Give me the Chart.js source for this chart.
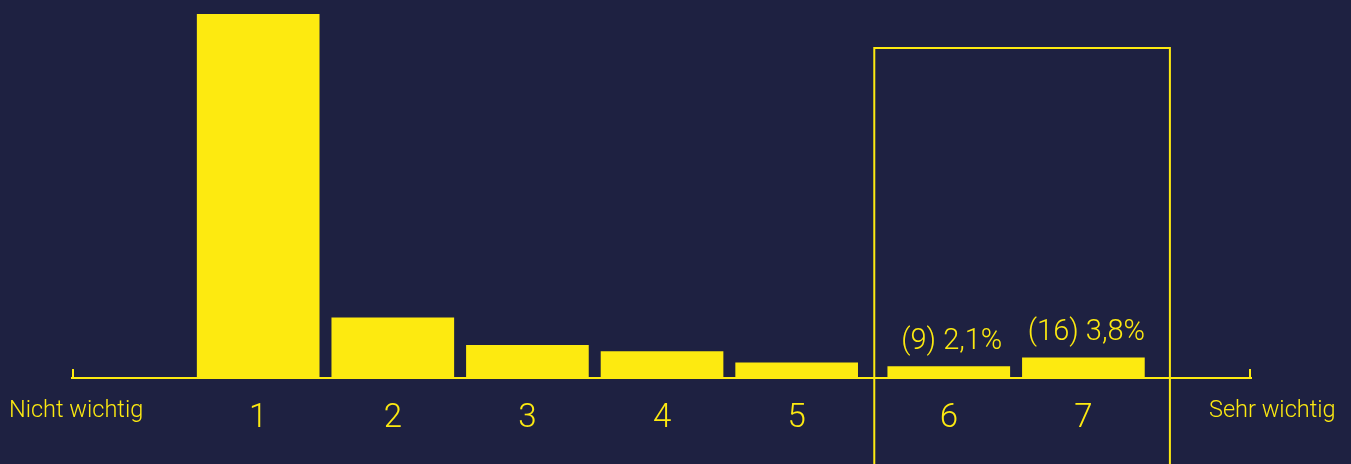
<!DOCTYPE html>
<html>
<head>
<meta charset="utf-8">
<script src="https://cdn.jsdelivr.net/npm/chart.js@4/dist/chart.umd.min.js"></script>
<style>
  html, body { margin: 0; padding: 0; background: #1e2141; }
  #wrap { width: 1351px; height: 464px; position: relative; }
</style>
</head>
<body>
<div id="wrap"><canvas id="chart"></canvas></div>
<script>
// Data
const CATEGORIES = ['1', '2', '3', '4', '5', '6', '7'];
const COUNTS = [290, 48, 26, 21, 12, 9, 16];
const HIGHLIGHTED = [5, 6]; // boxed + labelled categories (6 and 7)
const SCALE_ENDS = ['Nicht wichtig', 'Sehr wichtig'];

const YELLOW = '#fdea10';
const FONT = 'Roboto';
const GROUP_GAP = 0.13; // extra space before the boxed group

const total = COUNTS.reduce((a, b) => a + b, 0);
const xPos = i => i + 1 + (i >= HIGHLIGHTED[0] ? GROUP_GAP : 0);
const tickValues = CATEGORIES.map((_, i) => xPos(i));
const pctLabel = i => `(${COUNTS[i]}) ${(COUNTS[i] / total * 100).toFixed(1).replace('.', ',')}%`;

const extras = {
  id: 'extras',
  afterDraw(chart) {
    const { ctx, chartArea, scales: { x } } = chart;
    const meta = chart.getDatasetMeta(0);
    ctx.save();
    ctx.fillStyle = YELLOW;
    ctx.strokeStyle = YELLOW;

    // value labels above highlighted bars
    ctx.font = `300 29px ${FONT}`;
    ctx.textAlign = 'center';
    ctx.textBaseline = 'alphabetic';
    HIGHLIGHTED.forEach(i => {
      const bar = meta.data[i];
      ctx.fillText(pctLabel(i), bar.x + 3, bar.y - 18);
    });

    // box around the group
    const left = x.getPixelForValue(xPos(HIGHLIGHTED[0])) - 74.5;
    const right = x.getPixelForValue(xPos(HIGHLIGHTED[HIGHLIGHTED.length - 1])) + 86.5;
    const top = chartArea.top + 34;
    ctx.lineWidth = 2;
    ctx.beginPath();
    ctx.moveTo(left, chart.height + 5);
    ctx.lineTo(left, top);
    ctx.lineTo(right, top);
    ctx.lineTo(right, chart.height + 5);
    ctx.stroke();

    // small end ticks on the axis
    [chartArea.left + 1, chartArea.right - 1].forEach(px => {
      ctx.beginPath();
      ctx.moveTo(px, chartArea.bottom - 9);
      ctx.lineTo(px, chartArea.bottom + 1);
      ctx.stroke();
    });

    // scale end labels
    ctx.font = `300 23.5px ${FONT}`;
    ctx.textAlign = 'left';
    ctx.fillText(SCALE_ENDS[0], chartArea.left - 63, chartArea.bottom + 39);
    ctx.fillText(SCALE_ENDS[1], chartArea.right - 42, chartArea.bottom + 39);
    ctx.restore();
  }
};

new Chart(document.getElementById('chart'), {
  type: 'bar',
  data: {
    datasets: [{
      data: COUNTS.map((c, i) => ({ x: xPos(i), y: c })),
      backgroundColor: YELLOW,
      borderWidth: 0,
      barThickness: 122
    }]
  },
  options: {
    responsive: true,
    maintainAspectRatio: false,
    animation: false,
    layout: { padding: { left: 72, right: 100, top: 14, bottom: 0 } },
    plugins: {
      legend: { display: false },
      tooltip: { enabled: false }
    },
    scales: {
      x: {
        type: 'linear',
        offset: false,
        min: -0.383,
        max: 8.375,
        grid: { display: false, drawTicks: false },
        border: { display: true, color: YELLOW, width: 2 },
        afterBuildTicks: s => { s.ticks = tickValues.map(v => ({ value: v })); },
        afterFit: s => { s.height = 86; },
        ticks: {
          color: YELLOW,
          font: { family: FONT, size: 33, weight: 300, lineHeight: 1 },
          padding: 24,
          autoSkip: false,
          maxRotation: 0,
          callback: (v, i) => CATEGORIES[i]
        }
      },
      y: { display: false, min: 0, max: Math.max(...COUNTS) }
    }
  },
  plugins: [extras]
});
</script>
</body>
</html>
